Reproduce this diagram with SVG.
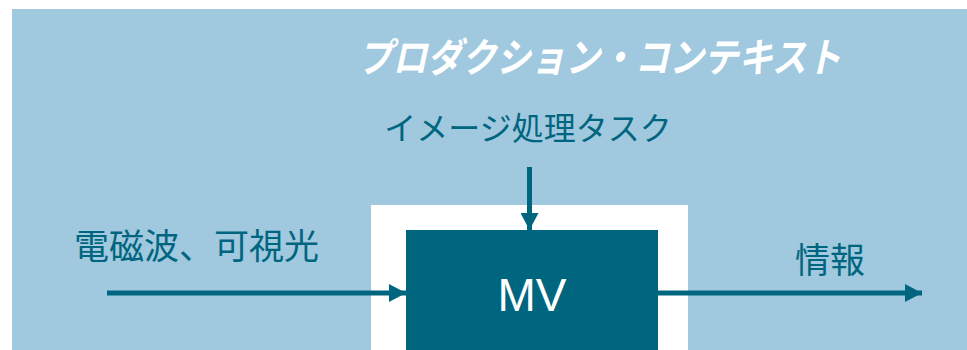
<svg xmlns="http://www.w3.org/2000/svg" width="967" height="350" viewBox="0 0 967 350">
<style>
.jp{font-family:"Noto Sans CJK JP","Noto Sans",sans-serif;fill:#00667F}
.conn{stroke:#00667F;stroke-width:5;fill:none}
</style>
<defs>
<marker id="arr" markerUnits="userSpaceOnUse" markerWidth="17" markerHeight="18" refX="17" refY="9" orient="auto" viewBox="0 0 17 18">
<path d="M0,0 L17,9 L0,18 Z" fill="#00667F"/>
</marker>
</defs>
<rect id="context" x="12" y="9" width="955" height="341" fill="#A0C8DE"/>
<text x="358" y="72" textLength="483" lengthAdjust="spacingAndGlyphs" font-family="'Noto Sans CJK JP','Noto Sans',sans-serif" font-size="40" font-weight="bold" font-style="italic" fill="#FFFFFF">プロダクション・コンテキスト</text>
<g id="mv-frame"><rect x="371" y="205" width="317" height="145" fill="#FFFFFF"/></g>
<g id="mv"><rect x="406" y="230" width="252" height="120" fill="#00667F"/>
<text x="532" y="311" text-anchor="middle" font-family="'Liberation Sans',Arial,sans-serif" font-size="46" fill="#FFFFFF">MV</text></g>
<g id="task"><text class="jp" x="528" y="140" text-anchor="middle" font-size="32">イメージ処理タスク</text></g>
<g id="input"><text class="jp" x="74" y="259" font-size="35">電磁波、可視光</text></g>
<g id="output"><text class="jp" x="795" y="273" font-size="35">情報</text></g>
<g id="connectors">
<line class="conn" x1="107" y1="293" x2="406" y2="293" marker-end="url(#arr)"/>
<line class="conn" x1="658" y1="293" x2="922" y2="293" marker-end="url(#arr)"/>
<line class="conn" x1="529.5" y1="167" x2="529.5" y2="230" marker-end="url(#arr)"/>
</g>
</svg>
